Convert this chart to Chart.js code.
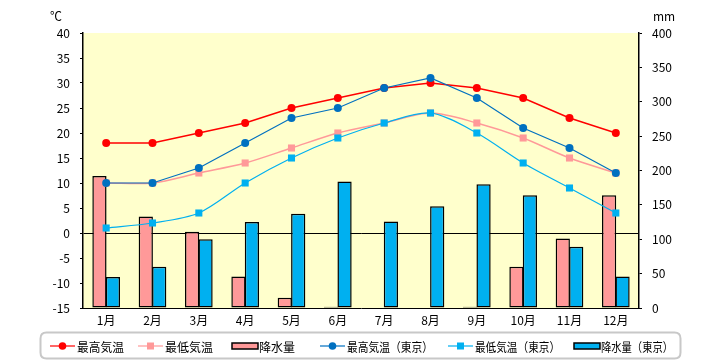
<!DOCTYPE html>
<html>
<head>
<meta charset="utf-8">
<script src="https://cdn.jsdelivr.net/npm/chart.js@4/dist/chart.umd.min.js"></script>
<style>
html,body{margin:0;padding:0;background:#fff;}
#wrap{width:720px;height:360px;}
</style>
</head>
<body>
<div id="wrap"><canvas id="c" width="720" height="360"></canvas></div>
<script>
const months = ['1月','2月','3月','4月','5月','6月','7月','8月','9月','10月','11月','12月'];
const maxTemp = [18,18,20,22,25,27,29,30,29,27,23,20];
const minTemp = [10,10,12,14,17,20,22,24,22,19,15,12];
const precip = [192,133,111,46,15,2,0,0,2,60,101,164];
const maxTempTokyo = [10,10,13,18,23,25,29,31,27,21,17,12];
const minTempTokyo = [1,2,4,10,15,19,22,24,20,14,9,4];
const precipTokyo = [45,60,100,125,137,184,126,148,180,164,89,46];
const tempTicks = [-15,-10,-5,0,5,10,15,20,25,30,35,40];
const precipTicks = [0,50,100,150,200,250,300,350,400];

const FONT = '"Noto Sans CJK JP", "DejaVu Sans", sans-serif';

const bgPlugin = {
  id:'bg',
  beforeDraw(chart){
    const {ctx, chartArea:a} = chart;
    ctx.save();
    ctx.fillStyle = '#FFFFCC';
    ctx.fillRect(a.left, a.top, a.right-a.left, a.bottom-a.top);
    ctx.restore();
  },
  afterDraw(chart){
    const ctx = chart.ctx;
    ctx.save();
    ctx.fillStyle = '#000';
    ctx.font = '12px ' + FONT;
    ctx.textBaseline = 'middle';
    ctx.textAlign = 'center';
    ctx.fillText('℃', 56, 16);
    ctx.fillText('mm', 664, 16);
    // legend box
    const bx = 40.5, by = 332.5, bw = 640, bh = 26, r = 6;
    ctx.strokeStyle = '#c8c8c8';
    ctx.lineWidth = 2;
    ctx.beginPath();
    ctx.moveTo(bx+r, by); ctx.lineTo(bx+bw-r, by); ctx.quadraticCurveTo(bx+bw, by, bx+bw, by+r);
    ctx.lineTo(bx+bw, by+bh-r); ctx.quadraticCurveTo(bx+bw, by+bh, bx+bw-r, by+bh);
    ctx.lineTo(bx+r, by+bh); ctx.quadraticCurveTo(bx, by+bh, bx, by+bh-r);
    ctx.lineTo(bx, by+r); ctx.quadraticCurveTo(bx, by, bx+r, by);
    ctx.stroke();
    const cy = 346;
    const xs = [50, 138, 232, 320, 448, 574];
    const widths = [47, 48, 36, 86, 85, 72];
    const ds = chart.data.datasets;
    ctx.textAlign = 'left';
    ctx.font = '12.5px ' + FONT;
    ds.forEach((d, k) => {
      const x = xs[k];
      if (d.type === 'bar') {
        ctx.fillStyle = d.backgroundColor;
        ctx.fillRect(x, cy-3, 26, 6);
        ctx.strokeStyle = '#000';
        ctx.lineWidth = 1.5;
        ctx.strokeRect(x, cy-3, 26, 6);
      } else {
        ctx.strokeStyle = d.borderColor;
        ctx.lineWidth = 1.2;
        ctx.beginPath(); ctx.moveTo(x, cy); ctx.lineTo(x+25, cy); ctx.stroke();
        ctx.fillStyle = d.backgroundColor;
        if (d.pointStyle === 'rect') {
          ctx.fillRect(x+12.5-3.5, cy-3.5, 7, 7);
        } else {
          ctx.beginPath(); ctx.arc(x+12.5, cy, 3.8, 0, Math.PI*2); ctx.fill();
        }
      }
      ctx.fillStyle = '#000';
      ctx.fillText(d.label, x + 27, cy + 1, widths[k]);
    });
    ctx.restore();
  }
};

new Chart(document.getElementById('c'), {
  data: {
    labels: months,
    datasets: [
      {type:'line', label:'最高気温', data:maxTemp, yAxisID:'y', borderColor:'#FF0000', backgroundColor:'#FF0000', borderWidth:1.5, pointStyle:'circle', pointRadius:4, pointBorderWidth:0, tension:0, order:1},
      {type:'line', label:'最低気温', data:minTemp, yAxisID:'y', borderColor:'#FF9999', backgroundColor:'#FF9999', borderWidth:1.5, pointStyle:'rect', pointRadius:5, pointBorderWidth:0, tension:0.3, order:1},
      {type:'bar', label:'降水量', data:precip, yAxisID:'y1', backgroundColor:'#FF9999', borderColor:'#000', borderWidth:1.5, order:2},
      {type:'line', label:'最高気温（東京）', data:maxTempTokyo, yAxisID:'y', borderColor:'#0070C0', backgroundColor:'#0070C0', borderWidth:1.2, pointStyle:'circle', pointRadius:4, pointBorderWidth:0, tension:0, order:0},
      {type:'line', label:'最低気温（東京）', data:minTempTokyo, yAxisID:'y', borderColor:'#00B0F0', backgroundColor:'#00B0F0', borderWidth:1.2, pointStyle:'rect', pointRadius:5, pointBorderWidth:0, tension:0.3, order:0},
      {type:'bar', label:'降水量（東京）', data:precipTokyo, yAxisID:'y1', backgroundColor:'#00B0F0', borderColor:'#000', borderWidth:1.5, order:2}
    ]
  },
  options: {
    responsive:false,
    animation:false,
    devicePixelRatio:1,
    layout:{padding:{top:33, bottom:32, left:0, right:0}},
    datasets:{bar:{categoryPercentage:0.58, barPercentage:1.06, borderSkipped:false}},
    plugins:{legend:{display:false}, tooltip:{enabled:false}},
    scales:{
      x:{
        grid:{display:true, color:'rgba(0,0,0,0)', drawTicks:false},
        border:{display:true, color:'#000', width:1},
        ticks:{color:'#000', font:{family:FONT, size:12}, padding:5, maxRotation:0, autoSkip:false},
        afterFit(s){ s.height = 20; }
      },
      y:{
        position:'left', min:-15, max:40,
        afterBuildTicks(s){ s.ticks = tempTicks.map(v=>({value:v})); },
        grid:{color:(c)=> c.tick && c.tick.value===0 ? '#000' : 'rgba(0,0,0,0)', tickColor:'#000', tickLength:3, drawOnChartArea:true, lineWidth:1},
        border:{display:true, color:'#000', width:1.5},
        ticks:{color:'#000', font:{family:FONT, size:12}, padding:10},
        afterFit(s){ s.width = 83; }
      },
      y1:{
        position:'right', min:0, max:400,
        afterBuildTicks(s){ s.ticks = precipTicks.map(v=>({value:v})); },
        grid:{drawOnChartArea:false, tickColor:'#000', tickLength:3},
        border:{display:true, color:'#000', width:1.5},
        ticks:{color:'#000', font:{family:FONT, size:12}, padding:10},
        afterFit(s){ s.width = 81; }
      }
    }
  },
  plugins:[bgPlugin]
});
</script>
</body>
</html>
